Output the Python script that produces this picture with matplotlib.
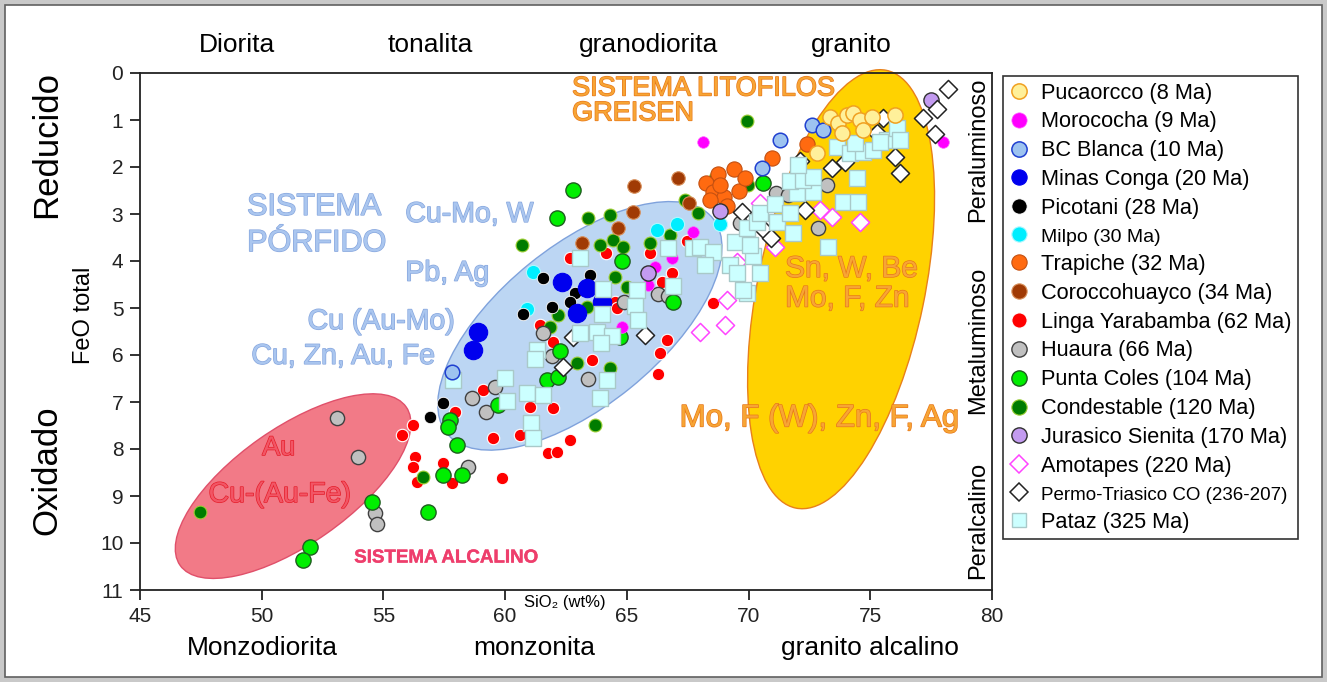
import matplotlib
matplotlib.use('Agg')
import matplotlib.pyplot as plt
from matplotlib.patches import Ellipse, Rectangle
from matplotlib.lines import Line2D
from matplotlib.transforms import ScaledTranslation
import matplotlib.patheffects as pe

plt.rcParams['font.family'] = ['Liberation Sans', 'DejaVu Sans']

# ---------------- data (SiO2 wt%, FeO total) ----------------
puca_x = [72.8, 73.35, 73.67, 74.04, 74.29, 74.58, 75.07, 76.01, 73.84, 74.7]
puca_y = [1.70, 0.94, 1.06, 0.89, 0.85, 1.00, 0.94, 0.89, 1.28, 1.21]

moro_x = [67.72, 66.85, 66.16, 65.87, 64.80, 68.13, 77.99]
moro_y = [3.38, 3.94, 4.13, 4.51, 5.40, 1.47, 1.47]

bcb_x = [72.61, 73.06, 71.29, 70.55, 57.82]
bcb_y = [1.11, 1.21, 1.43, 2.02, 6.36]

conga_x = [62.34, 63.36, 63.98, 62.95, 58.88, 58.68]
conga_y = [4.45, 4.57, 4.87, 5.11, 5.51, 5.89]

pico_x = [61.55, 63.49, 62.87, 62.66, 61.92, 60.73, 57.45, 56.91]
pico_y = [4.36, 4.30, 4.68, 4.87, 4.98, 5.13, 7.02, 7.32]

milpo_x = [66.24, 67.06, 61.14, 60.90, 68.83]
milpo_y = [3.34, 3.21, 4.23, 5.02, 3.21]

trap_x = [72.40, 70.96, 69.40, 68.74, 68.25, 68.54, 68.99, 69.61, 69.12, 68.42, 69.85, 68.83]
trap_y = [1.51, 1.81, 2.04, 2.15, 2.34, 2.53, 2.64, 2.51, 2.83, 2.70, 2.23, 2.38]

coro_x = [65.29, 67.10, 67.55, 65.25, 64.64, 63.16]
coro_y = [2.40, 2.23, 2.77, 2.96, 3.30, 3.62]

linga_x = [56.21, 55.76, 56.30, 56.21, 56.38, 57.94, 57.45, 57.82, 59.09, 59.50,
           60.61, 61.02, 61.97, 61.76, 62.13, 62.66, 59.87, 61.97, 61.43, 63.57,
           62.66, 64.14, 65.95, 66.85, 66.44, 67.47, 66.65, 66.36, 66.28, 64.51,
           64.60, 68.54]
linga_y = [7.49, 7.70, 8.17, 8.38, 8.70, 7.21, 8.30, 8.72, 6.74, 7.77,
           7.70, 7.11, 7.13, 8.09, 8.06, 7.81, 8.62, 5.72, 5.36, 6.11,
           3.94, 3.83, 3.83, 4.26, 4.45, 3.57, 5.68, 5.96, 6.40, 4.87,
           5.00, 4.89]

huaura_x = [53.09, 53.96, 54.65, 54.74, 59.58, 58.64, 59.21, 58.47, 61.55, 61.92,
            63.40, 64.88, 66.28, 66.69, 71.13, 71.62, 73.22, 72.85, 69.65]
huaura_y = [7.34, 8.17, 9.36, 9.60, 6.68, 6.91, 7.21, 8.38, 5.53, 6.02,
            6.51, 4.87, 4.70, 4.74, 2.55, 2.60, 2.38, 3.30, 3.19]

pcol_x = [70.59, 62.79, 62.13, 64.80, 66.89, 62.25, 61.72, 62.17, 57.73, 57.65,
          58.02, 57.45, 58.23, 59.71, 54.53, 51.98, 51.70, 56.83, 64.72]
pcol_y = [2.34, 2.49, 3.09, 4.00, 4.87, 5.91, 6.53, 6.47, 7.38, 7.53,
          7.91, 8.55, 8.55, 7.06, 9.13, 10.09, 10.36, 9.34, 5.62]

cond_x = [47.46, 56.63, 60.69, 63.40, 64.31, 63.90, 64.43, 64.84, 64.51, 65.01,
          65.95, 66.77, 63.36, 62.17, 61.84, 62.95, 64.31, 63.69, 67.39, 67.92,
          68.62, 69.98, 69.94]
cond_y = [9.34, 8.60, 3.66, 3.09, 3.02, 3.66, 3.55, 3.70, 4.34, 4.55,
          3.62, 3.45, 4.98, 5.15, 5.40, 6.17, 6.28, 7.49, 2.70, 2.98,
          2.23, 2.38, 1.02]

jura_x = [65.87, 68.83, 77.49]
jura_y = [4.26, 2.94, 0.57]

amo_x = [68.00, 69.03, 69.11, 69.52, 71.09, 72.93, 73.43, 74.58, 70.47]
amo_y = [5.51, 5.36, 4.83, 4.02, 3.70, 2.91, 3.06, 3.17, 2.77]

permo_x = [78.19, 77.74, 77.17, 77.66, 75.52, 75.28, 76.02, 76.22, 73.96, 73.43,
           72.11, 69.73, 70.59, 70.92, 72.32, 62.79, 65.75, 62.38]
permo_y = [0.34, 0.77, 0.96, 1.30, 0.96, 1.28, 1.79, 2.13, 1.89, 2.02,
           1.87, 2.96, 3.32, 3.51, 2.91, 5.62, 5.57, 6.26]

pataz_x = [57.86, 59.99, 60.08, 60.90, 61.55, 61.06, 61.14, 61.31, 61.23, 63.08,
           63.77, 64.39, 63.94, 63.90, 64.18, 63.08, 64.02, 65.42, 63.98, 65.33,
           65.46, 66.69, 66.90, 67.72, 68.00, 68.54, 68.21, 69.24, 69.52, 69.94,
           70.47, 70.18, 69.44, 70.06, 69.94, 70.35, 70.47, 71.09, 71.17, 71.83,
           71.70, 71.99, 72.65, 71.70, 72.24, 72.65, 72.03, 73.26, 73.88, 74.50,
           74.45, 73.63, 74.17, 74.70, 75.11, 75.69, 76.10, 76.22, 75.40, 74.37,
           69.77]
pataz_y = [6.53, 6.49, 6.98, 6.81, 6.85, 7.45, 7.77, 5.89, 6.09, 5.53,
           5.51, 5.60, 5.74, 6.91, 6.53, 3.94, 4.60, 4.62, 5.13, 4.96,
           5.26, 3.72, 4.53, 3.72, 3.70, 3.81, 4.09, 4.09, 4.26, 4.68,
           4.26, 3.89, 3.60, 3.66, 3.30, 3.17, 2.98, 2.79, 3.17, 3.40,
           2.98, 2.55, 2.53, 2.30, 2.28, 2.21, 1.96, 3.70, 2.74, 2.74,
           2.23, 1.57, 1.70, 1.68, 1.64, 1.43, 1.17, 1.43, 1.47, 1.49,
           4.62]

legend_labels = ['Pucaorcco (8 Ma)', 'Morococha (9 Ma)', 'BC Blanca (10 Ma)',
                 'Minas Conga (20 Ma)', 'Picotani (28 Ma)', 'Milpo (30 Ma)',
                 'Trapiche (32 Ma)', 'Coroccohuayco (34 Ma)', 'Linga Yarabamba (62 Ma)',
                 'Huaura (66 Ma)', 'Punta Coles (104 Ma)', 'Condestable (120 Ma)',
                 'Jurasico Sienita (170 Ma)', 'Amotapes (220 Ma)',
                 'Permo-Triasico CO (236-207)', 'Pataz (325 Ma)']

x_ticks = [45, 50, 55, 60, 65, 70, 75, 80]
y_ticks = list(range(0, 12))

# ---------------- figure ----------------
W, H = 1327, 682
fig = plt.figure(figsize=(W / 100, H / 100), dpi=100)
fig.patch.set_facecolor('#C9C9C9')
fig.add_artist(Rectangle((5 / W, 5 / H), 1 - 10 / W, 1 - 10 / H, transform=fig.transFigure,
                         facecolor='white', edgecolor='#606060', lw=1.2, zorder=-5))

ax = fig.add_axes([140 / W, 92 / H, 852 / W, 517 / H])
ax.set_xlim(45, 80)
ax.set_ylim(11, 0)
ax.set_facecolor('none')

# ellipses (center in data, size in inches)
def ell(cx, cy, w, h, ang, fc, ec, z=1):
    tr = fig.dpi_scale_trans + ScaledTranslation(cx, cy, ax.transData)
    e = Ellipse((0, 0), w, h, angle=ang, transform=tr, facecolor=fc, edgecolor=ec, lw=1.0,
                zorder=z, clip_on=False)
    ax.add_patch(e)

ell(51.29, 8.79, 2.76, 1.16, 35, '#F27A87', '#E0506A')
ell(63.07, 5.38, 3.42, 1.60, 39, '#BCD6F3', '#7FA2DC')
ell(73.80, 4.60, 4.47, 1.67, 78.3, '#FFD200', '#E8801A')

# labels inside plot
def otext(x, y, s, size, fc, ec, ha='left', va='center', weight='normal', lw=1.0):
    ax.text(x, y, s, fontsize=size, color=fc, ha=ha, va=va, weight=weight, zorder=3,
            path_effects=[pe.withStroke(linewidth=lw, foreground=ec)])

blue_fc, blue_ec = '#AAC6EF', '#86A6DE'
otext(49.4, 2.85, 'SISTEMA', 22, blue_fc, blue_ec)
otext(49.4, 3.62, 'PÓRFIDO', 22, blue_fc, blue_ec)
otext(55.9, 3.02, 'Cu-Mo, W', 20.5, blue_fc, blue_ec)
otext(55.9, 4.27, 'Pb, Ag', 20.5, blue_fc, blue_ec)
otext(57.95, 5.30, 'Cu (Au-Mo)', 20.5, blue_fc, blue_ec, ha='right')
otext(57.12, 6.04, 'Cu, Zn, Au, Fe', 20.5, blue_fc, blue_ec, ha='right')

red_fc, red_ec = '#F25565', '#E51E2A'
otext(50.7, 7.98, 'Au', 19.5, red_fc, red_ec, ha='center')
otext(50.75, 8.98, 'Cu-(Au-Fe)', 20.5, red_fc, red_ec, ha='center')
otext(53.8, 10.32, 'SISTEMA ALCALINO', 13.5, '#EE3E6C', '#EE3E6C', weight='bold', lw=0.3)

or_fc, or_ec = '#F7A535', '#E8781A'
otext(62.75, 0.33, 'SISTEMA LITOFILOS', 19.5, or_fc, or_ec)
otext(62.75, 0.86, 'GREISEN', 19.5, or_fc, or_ec)
otext(71.5, 4.17, 'Sn, W, Be', 21.5, or_fc, or_ec)
otext(71.5, 4.80, 'Mo, F, Zn', 21.5, or_fc, or_ec)
otext(72.9, 7.35, 'Mo, F (W), Zn, F, Ag', 22.5, or_fc, or_ec, ha='center')

# scatter series
styles = {}
def sc(i, x, y, m, s, fc, ec, lw, z):
    ax.scatter(x, y, marker=m, s=s, facecolors=fc, edgecolors=ec, linewidths=lw, zorder=z)
    styles[i] = (m, fc, ec, lw)

sc(8, linga_x, linga_y, 'o', 80, '#FF0000', '#FFFFFF', 0.8, 4)
sc(11, cond_x, cond_y, 'o', 85, '#007C00', '#9ACD32', 0.8, 4)
sc(9, huaura_x, huaura_y, 'o', 105, '#C0C0C0', '#404040', 1.0, 4)
sc(10, pcol_x, pcol_y, 'o', 120, '#00EE00', '#1E5E1E', 1.0, 4)
sc(7, coro_x, coro_y, 'o', 95, '#A03A05', '#D9915C', 0.8, 4)
sc(6, trap_x, trap_y, 'o', 120, '#FF6A10', '#C45010', 0.8, 4)
sc(1, moro_x, moro_y, 'o', 70, '#FF00FF', '#FF66FF', 0.5, 4)
sc(5, milpo_x, milpo_y, 'o', 105, '#00EEFF', '#B0F8FF', 0.8, 4)
sc(4, pico_x, pico_y, 'o', 80, '#000000', '#FFFFFF', 0.6, 4)
sc(3, conga_x, conga_y, 'o', 175, '#0000EE', '#0000EE', 0.8, 4)
sc(12, jura_x, jura_y, 'o', 120, '#C39BF0', '#303030', 1.0, 4)
sc(13, amo_x, amo_y, 'D', 85, '#FFFFFF', '#FF44FF', 1.1, 5)
sc(14, permo_x, permo_y, 'D', 85, '#FFFFFF', '#222222', 1.1, 5)
sc(15, pataz_x, pataz_y, 's', 135, '#CCFFFF', '#A9C9C9', 1.0, 5)
sc(2, bcb_x, bcb_y, 'o', 110, '#9DC3F0', '#2040D0', 1.1, 6)
sc(0, puca_x, puca_y, 'o', 120, '#FFF09A', '#F0A020', 1.1, 6)

# axes styling
for sp in ax.spines.values():
    sp.set_linewidth(1.3)
    sp.set_color('#222222')
ax.set_xticks(x_ticks)
ax.set_yticks(y_ticks)
ax.tick_params(direction='out', length=7, width=1.3, labelsize=15, pad=5, colors='#222222')

# outer texts
def ft(x, y, s, size, rot=0, **kw):
    fig.text(x / W, 1 - y / H, s, fontsize=size, rotation=rot, ha='center', va='center', **kw)

for s, xx in zip(['Diorita', 'tonalita', 'granodiorita', 'granito'], [237, 430, 649, 851]):
    ft(xx, 45, s, 19)
for s, xx in zip(['Monzodiorita', 'monzonita', 'granito alcalino'], [262, 534, 870]):
    ft(xx, 648, s, 19)
ft(47, 145, 'Reducido', 25, rot=90)
ft(47, 470, 'Oxidado', 25, rot=90)
ft(84, 315, 'FeO total', 17, rot=90)
ft(565, 603, 'SiO₂ (wt%)', 12)
ft(978, 150, 'Peraluminoso', 17, rot=90)
ft(978, 340, 'Metaluminoso', 17, rot=90)
ft(978, 520, 'Peralcalino', 17, rot=90)

# legend
handles = []
for i in range(16):
    m, fc, ec, lw = styles[i]
    ms = 11 if m == 'o' else (10 if m == 's' else 9)
    handles.append(Line2D([], [], ls='none', marker=m, markersize=ms, markerfacecolor=fc,
                          markeredgecolor=ec, markeredgewidth=lw))
leg = fig.legend(handles, legend_labels, loc='upper left', bbox_to_anchor=(1003 / W, 1 - 76 / H),
                 frameon=True, fancybox=False, edgecolor='#333333', framealpha=1,
                 fontsize=15.7, handlelength=0.9, handletextpad=0.55,
                 labelspacing=0.36, borderpad=0.3, borderaxespad=0)
leg.get_frame().set_linewidth(1.2)
leg.get_texts()[5].set_fontsize(14)
leg.get_texts()[14].set_fontsize(13.5)

fig.savefig('out.png', dpi=100, facecolor=fig.get_facecolor())
